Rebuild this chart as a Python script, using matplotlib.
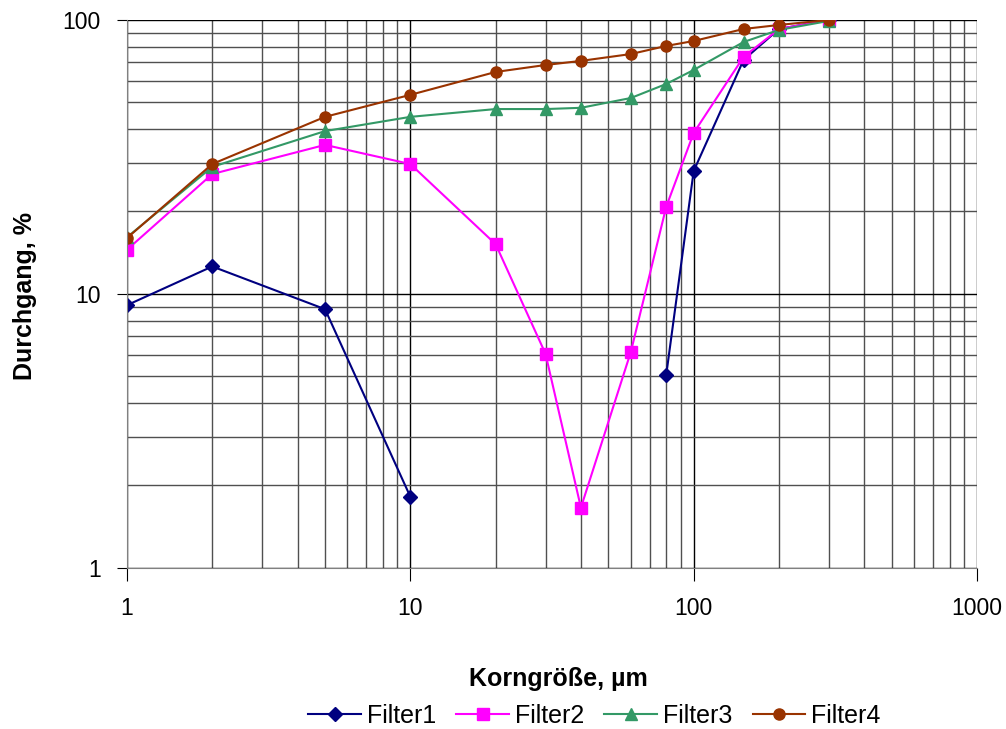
import numpy as np
import matplotlib.pyplot as plt
from matplotlib.ticker import LogLocator, FixedLocator, NullFormatter

plt.rcParams['font.family'] = ['Liberation Sans', 'DejaVu Sans']

# Korngröße in µm
x = [1, 2, 5, 10, 20, 30, 40, 60, 80, 100, 150, 200, 300]
nan = np.nan
filter1 = [9.1, 12.6, 8.8, 1.82, nan, nan, nan, nan, 5.06, 28.1, 71.5, 92.7, 100]
filter2 = [14.5, 27.4, 35.0, 29.8, 15.2, 6.05, 1.66, 6.14, 20.8, 38.7, 73.3, 92.7, 100]
filter3 = [16.1, 29.1, 39.3, 44.3, 47.3, 47.3, 47.8, 51.9, 58.4, 65.7, 83.1, 92.0, 99.2]
filter4 = [16.0, 29.8, 44.3, 53.3, 64.6, 68.5, 70.9, 75.1, 80.4, 83.8, 92.7, 95.9, 100]

fig = plt.figure(figsize=(10.06, 7.29), dpi=100)
ax = fig.add_axes([0.1262, 0.2209, 0.8450, 0.7517])

ax.plot(x, filter1, color='#000080', marker='D', markersize=7.5, lw=1.5, label='Filter1')
ax.plot(x, filter2, color='#FF00FF', marker='s', markersize=8, lw=1.5, label='Filter2')
ax.plot(x, filter3, color='#339966', marker='^', markersize=9, lw=1.5, label='Filter3')
ax.plot(x, filter4, color='#993300', marker='o', markersize=8, lw=1.5, label='Filter4')

ax.set_xscale('log')
ax.set_yscale('log')
ax.set_xlim(1, 1000)
ax.set_ylim(1, 100)

ax.xaxis.set_major_locator(FixedLocator([1, 10, 100, 1000]))
ax.yaxis.set_major_locator(FixedLocator([1, 10, 100]))
ax.set_xticklabels(['1', '10', '100', '1000'])
ax.set_yticklabels(['1', '10', '100'])
ax.xaxis.set_minor_locator(LogLocator(base=10, subs=np.arange(2, 10)))
ax.yaxis.set_minor_locator(LogLocator(base=10, subs=np.arange(2, 10)))
ax.xaxis.set_minor_formatter(NullFormatter())
ax.yaxis.set_minor_formatter(NullFormatter())

ax.grid(which='major', color='#000000', lw=1)
ax.grid(which='minor', color='#505050', lw=1)
ax.set_axisbelow(True)

for s in ['top', 'right']:
    ax.spines[s].set_visible(False)
ax.spines['left'].set_color('#808080')
ax.spines['bottom'].set_color('#808080')
ax.tick_params(axis='x', which='major', direction='out', length=9, color='#000000',
               labelsize=16.5, pad=12)
ax.tick_params(axis='y', which='major', direction='out', length=7, color='#000000',
               labelsize=16.5, pad=12)
ax.tick_params(which='minor', length=0)

fig.text(0.555, 1 - 679 / 729, 'Korngröße, µm', fontsize=18, fontweight='bold',
         ha='center', va='center')
fig.text(0.025, 1 - 296 / 729, 'Durchgang, %', fontsize=18, fontweight='bold',
         ha='center', va='center', rotation=90)

fig.legend(loc='center', bbox_to_anchor=(0.591, 1 - 716 / 729), ncol=4, frameon=False,
           fontsize=18, handlelength=2.1, handletextpad=0.25, columnspacing=0.8,
           borderpad=0)

fig.savefig('out.png', dpi=100)
